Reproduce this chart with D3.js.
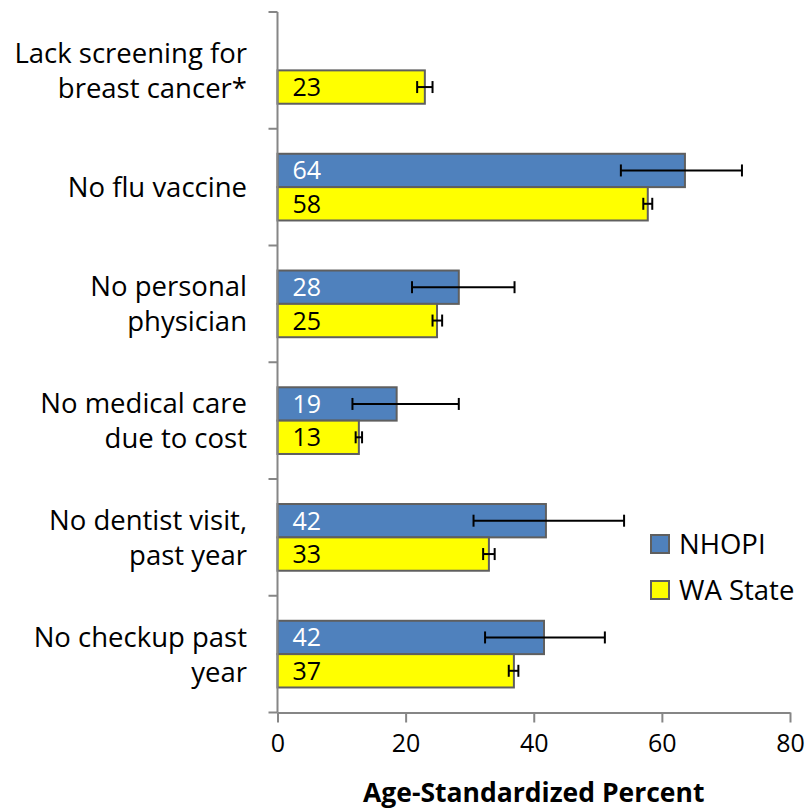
<!DOCTYPE html>
<html lang="en">
<head>
    <meta charset="UTF-8">
    <script src="https://d3js.org/d3.v7.min.js"></script>
    <title>NHOPI vs WA State - preventive care</title>
    <style>
        body { margin: 0; background: #fff; }
        text { font-family: "Open Sans", Lato, sans-serif; }
    </style>
</head>
<body>
    <script type="text/javascript">

        const w = 805;
        const h = 811;
        const fontSize = "25px";
        const labelSize = "27.5px";

        // data
        const categories = [
            ["Lack screening for", "breast cancer*"],
            ["No flu vaccine"],
            ["No personal", "physician"],
            ["No medical care", "due to cost"],
            ["No dentist visit,", "past year"],
            ["No checkup past", "year"]
        ];
        const seriesNames = ["NHOPI", "WA State"];
        const nhopiValues = [null, 63.6, 28.3, 18.6, 41.9, 41.6];
        const nhopiLow = [null, 53.6, 21.0, 11.7, 30.6, 32.4];
        const nhopiHigh = [null, 72.5, 37.0, 28.3, 54.1, 51.1];
        const waValues = [23.0, 57.8, 24.9, 12.7, 33.0, 36.9];
        const waLow = [21.8, 57.1, 24.2, 12.2, 32.1, 36.1];
        const waHigh = [24.2, 58.5, 25.7, 13.2, 33.9, 37.6];
        const xTicks = [0, 20, 40, 60, 80];

        const colors = { "NHOPI": "#4F81BD", "WA State": "#FFFF00" };
        const labelColors = { "NHOPI": "#ffffff", "WA State": "#000000" };

        const rows = [];
        categories.forEach((c, i) => {
            rows.push({ cat: i, series: "NHOPI", v: nhopiValues[i], lo: nhopiLow[i], hi: nhopiHigh[i] });
            rows.push({ cat: i, series: "WA State", v: waValues[i], lo: waLow[i], hi: waHigh[i] });
        });
        const data = rows.filter(d => d.v !== null);

        const plotLeft = 277.5, plotRight = 790, plotTop = 12, plotBottom = 712.5;

        const xScale = d3.scaleLinear().domain([0, 80]).range([plotLeft, plotRight]);

        const yScale = d3.scaleBand()
            .domain(d3.range(categories.length))
            .range([plotTop, plotBottom])
            .paddingInner(0.4286)
            .paddingOuter(0.2143);

        const ySub = d3.scaleBand()
            .domain(seriesNames)
            .range([0, yScale.bandwidth()]);

        const svg = d3.select("body")
            .append("svg")
            .attr("width", w)
            .attr("height", h);

        // bars
        const bars = svg.append("g").selectAll("g")
            .data(data)
            .enter()
            .append("g")
            .attr("transform", d => "translate(0," + (yScale(d.cat) + ySub(d.series)) + ")");

        bars.append("rect")
            .attr("x", xScale(0))
            .attr("y", 0)
            .attr("width", d => xScale(d.v) - xScale(0))
            .attr("height", ySub.bandwidth())
            .style("fill", d => colors[d.series])
            .style("stroke", "#5f5f5f")
            .style("stroke-width", 2);

        // error bars
        const bh = ySub.bandwidth();
        bars.append("line")
            .attr("x1", d => xScale(d.lo)).attr("x2", d => xScale(d.hi))
            .attr("y1", bh / 2).attr("y2", bh / 2)
            .style("stroke", "#000").style("stroke-width", 2);
        bars.append("line")
            .attr("x1", d => xScale(d.lo)).attr("x2", d => xScale(d.lo))
            .attr("y1", bh / 2 - 6).attr("y2", bh / 2 + 6)
            .style("stroke", "#000").style("stroke-width", 2);
        bars.append("line")
            .attr("x1", d => xScale(d.hi)).attr("x2", d => xScale(d.hi))
            .attr("y1", bh / 2 - 6).attr("y2", bh / 2 + 6)
            .style("stroke", "#000").style("stroke-width", 2);

        // value labels
        bars.append("text")
            .attr("x", xScale(0) + 15)
            .attr("y", bh / 2)
            .attr("dy", "0.36em")
            .style("font-size", fontSize)
            .style("fill", d => labelColors[d.series])
            .text(d => Math.round(d.v));

        // x axis
        const xAxis = d3.axisBottom(xScale)
            .tickValues(xTicks)
            .tickSize(10)
            .tickSizeOuter(0)
            .tickPadding(12);

        const gx = svg.append("g")
            .attr("transform", "translate(0," + plotBottom + ")")
            .call(xAxis);
        gx.select(".domain").style("stroke", "#868686").style("stroke-width", 2);
        gx.selectAll(".tick line").style("stroke", "#868686").style("stroke-width", 2);
        gx.selectAll(".tick text")
            .style("font-family", "'Open Sans', sans-serif")
            .style("font-size", fontSize)
            .style("fill", "#000");

        // y axis (category axis)
        const gy = svg.append("g");
        gy.append("line")
            .attr("x1", plotLeft).attr("x2", plotLeft)
            .attr("y1", plotTop).attr("y2", plotBottom)
            .style("stroke", "#868686").style("stroke-width", 2);
        gy.selectAll(".cat-tick")
            .data(d3.range(categories.length + 1))
            .enter()
            .append("line")
            .attr("x1", plotLeft - 9).attr("x2", plotLeft)
            .attr("y1", i => plotTop + i * yScale.step())
            .attr("y2", i => plotTop + i * yScale.step())
            .style("stroke", "#868686").style("stroke-width", 2);

        const catLabels = gy.selectAll(".cat-label")
            .data(categories)
            .enter()
            .append("text")
            .attr("text-anchor", "end")
            .style("font-size", labelSize)
            .style("fill", "#000");
        catLabels.each(function (lines, i) {
            const cy = yScale(i) + yScale.bandwidth() / 2;
            const lh = 35;
            const y0 = cy - (lines.length - 1) * lh / 2;
            d3.select(this).selectAll("tspan")
                .data(lines)
                .enter()
                .append("tspan")
                .attr("x", 247)
                .attr("y", (d, j) => y0 + j * lh)
                .attr("dy", "0.36em")
                .text(d => d);
        });

        // axis title
        svg.append("text")
            .attr("x", (plotLeft + plotRight) / 2)
            .attr("y", 802)
            .attr("text-anchor", "middle")
            .style("font-size", "26.5px")
            .style("font-weight", "bold")
            .text("Age-Standardized Percent");

        // legend
        const legend = svg.append("g");
        const li = legend.selectAll("g")
            .data(seriesNames)
            .enter()
            .append("g")
            .attr("transform", (d, i) => "translate(651," + (535 + i * 46) + ")");
        li.append("rect")
            .attr("width", 18).attr("height", 18)
            .style("fill", d => colors[d])
            .style("stroke", "#5f5f5f")
            .style("stroke-width", 2);
        li.append("text")
            .attr("x", 28)
            .attr("y", 9)
            .attr("dy", "0.36em")
            .style("font-size", labelSize)
            .text(d => d);

    </script>
</body>
</html>
